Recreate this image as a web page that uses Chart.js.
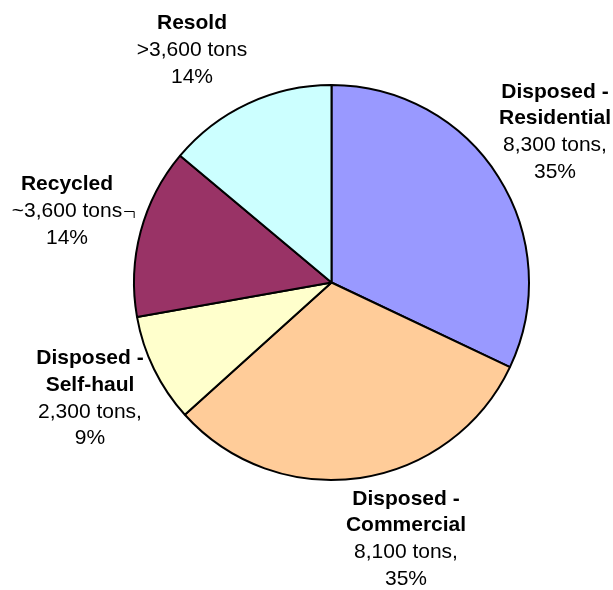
<!DOCTYPE html>
<html lang="en">
<head>
    <meta charset="UTF-8">
    <title>Waste Stream</title>
    <script src="https://cdn.jsdelivr.net/npm/chart.js"></script>
    <style>
        html, body { margin: 0; padding: 0; background: #fff; }
    </style>
</head>
<body>
<canvas id="myChart" width="613" height="590"></canvas>
<script>
    // slices, clockwise from 12 o'clock
    const nameLines = [['Disposed -', 'Residential'], ['Disposed -', 'Commercial'], ['Disposed -', 'Self-haul'], ['Recycled'], ['Resold']];
    const tons = [8300, 8100, 2300, 3600, 3600];
    const tonsPrefix = ['', '', '', '~', '>'];
    const tonsSuffix = [',', ',', ',', '', ''];
    const percents = [35, 35, 9, 14, 14];
    const colors = ['#9999ff', '#ffcc99', '#ffffcc', '#993366', '#ccffff'];

    // where each label block sits, relative to the pie centre (px)
    const labelOffsets = [[223.5, -150.5], [74.5, 256.5], [-241.5, 116], [-264.5, -71.5], [-139.5, -232.5]];
    const LINE_H = 26.8;
    const FONT = '"Liberation Sans", Arial, sans-serif';

    const pieLabels = {
        id: 'pieLabels',
        afterDraw(chart) {
            const ctx = chart.ctx;
            const arcs = chart.getDatasetMeta(0).data;
            ctx.save();
            ctx.fillStyle = '#000';
            ctx.textAlign = 'center';
            ctx.textBaseline = 'middle';
            arcs.forEach((arc, i) => {
                const lines = nameLines[i].map(t => ({ t, bold: true }));
                const tonsLine = lines.length;
                lines.push({ t: tonsPrefix[i] + tons[i].toLocaleString('en-US') + ' tons' + tonsSuffix[i], bold: false });
                lines.push({ t: percents[i] + '%', bold: false });
                const cx = arc.x + labelOffsets[i][0];
                let y = arc.y + labelOffsets[i][1] - (lines.length - 1) * LINE_H / 2;
                lines.forEach((ln, k) => {
                    ctx.font = (ln.bold ? 'bold ' : '') + '21px ' + FONT;
                    ctx.fillText(ln.t, cx, y);
                    // leader line from the tons text of the recycled slice
                    if (i === 3 && k === tonsLine) {
                        const right = cx + ctx.measureText(ln.t).width / 2;
                        ctx.beginPath();
                        ctx.lineWidth = 1;
                        ctx.strokeStyle = '#000';
                        ctx.moveTo(right + 2, y + 0.5);
                        ctx.lineTo(right + 12, y + 0.5);
                        ctx.lineTo(right + 12, y + 7);
                        ctx.stroke();
                    }
                    y += LINE_H;
                });
            });
            ctx.restore();
        }
    };

    const ctx = document.getElementById('myChart').getContext('2d');
    const chart = new Chart(ctx, {
        type: 'pie',
        data: {
            labels: nameLines.map(l => l.join(' ')),
            datasets: [{
                data: tons,
                backgroundColor: colors,
                borderColor: '#000',
                borderWidth: 2
            }]
        },
        options: {
            responsive: false,
            animation: false,
            layout: { padding: { left: 133, right: 83, top: 84, bottom: 109 } },
            plugins: {
                legend: { display: false },
                tooltip: { enabled: false }
            }
        },
        plugins: [pieLabels]
    });
</script>
</body>
</html>
